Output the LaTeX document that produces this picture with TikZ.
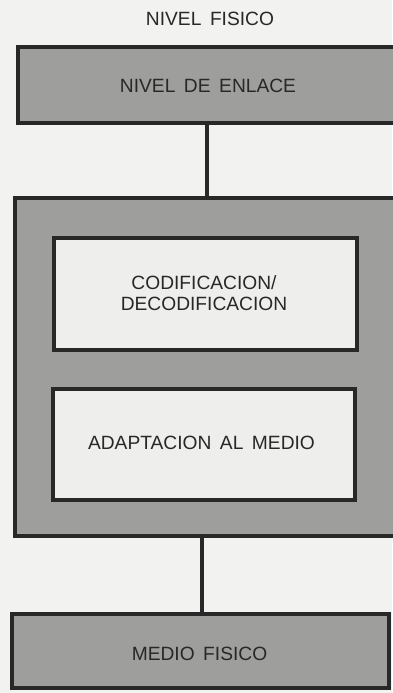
\documentclass[tikz,border=0pt]{standalone}
\usepackage{fontspec}
\setmainfont{Liberation Sans}
\definecolor{bgc}{RGB}{242,242,240}
\definecolor{grayfill}{RGB}{158,158,156}
\definecolor{whitefill}{RGB}{238,238,236}
\definecolor{ink}{RGB}{40,40,40}
\begin{document}
\begin{tikzpicture}[x=1pt,y=-1pt,
  every node/.style={font=\fontsize{19.2}{21.5}\selectfont, text=ink, align=center, inner sep=0pt},
  graybox/.style={draw=ink, line width=4pt, fill=grayfill},
  whitebox/.style={draw=ink, line width=4pt, fill=whitefill},
  conn/.style={draw=ink, line width=4pt}]
\fill[bgc] (0,0) rectangle (392,693);
\useasboundingbox (0,0) rectangle (392,693);
\node (title) at (210,19) {NIVEL\, FISICO};
\node[graybox, minimum width=378pt, minimum height=76pt] (enlace) at (207,85) {};
\node at (208,86) {NIVEL\, DE\, ENLACE};
\node[graybox, minimum width=381pt, minimum height=338pt] (fisico) at (205.5,367) {};
\node[whitebox, minimum width=303pt, minimum height=112pt] (codif) at (205.5,294) {};
\node at (204,293) {CODIFICACION/\\DECODIFICACION};
\node[whitebox, minimum width=302pt, minimum height=111pt] (adapt) at (204,444.5) {};
\node at (201.5,443) {ADAPTACION\, AL\, MEDIO};
\node[graybox, minimum width=377pt, minimum height=74pt] (medio) at (200.5,651) {};
\node at (199.5,654) {MEDIO\, FISICO};
\draw[conn] (enlace.south) -- (enlace.south |- fisico.north);
\draw[conn] ([xshift=1.5pt]medio.north) -- ([xshift=1.5pt]medio.north |- fisico.south);
\end{tikzpicture}
\end{document}
